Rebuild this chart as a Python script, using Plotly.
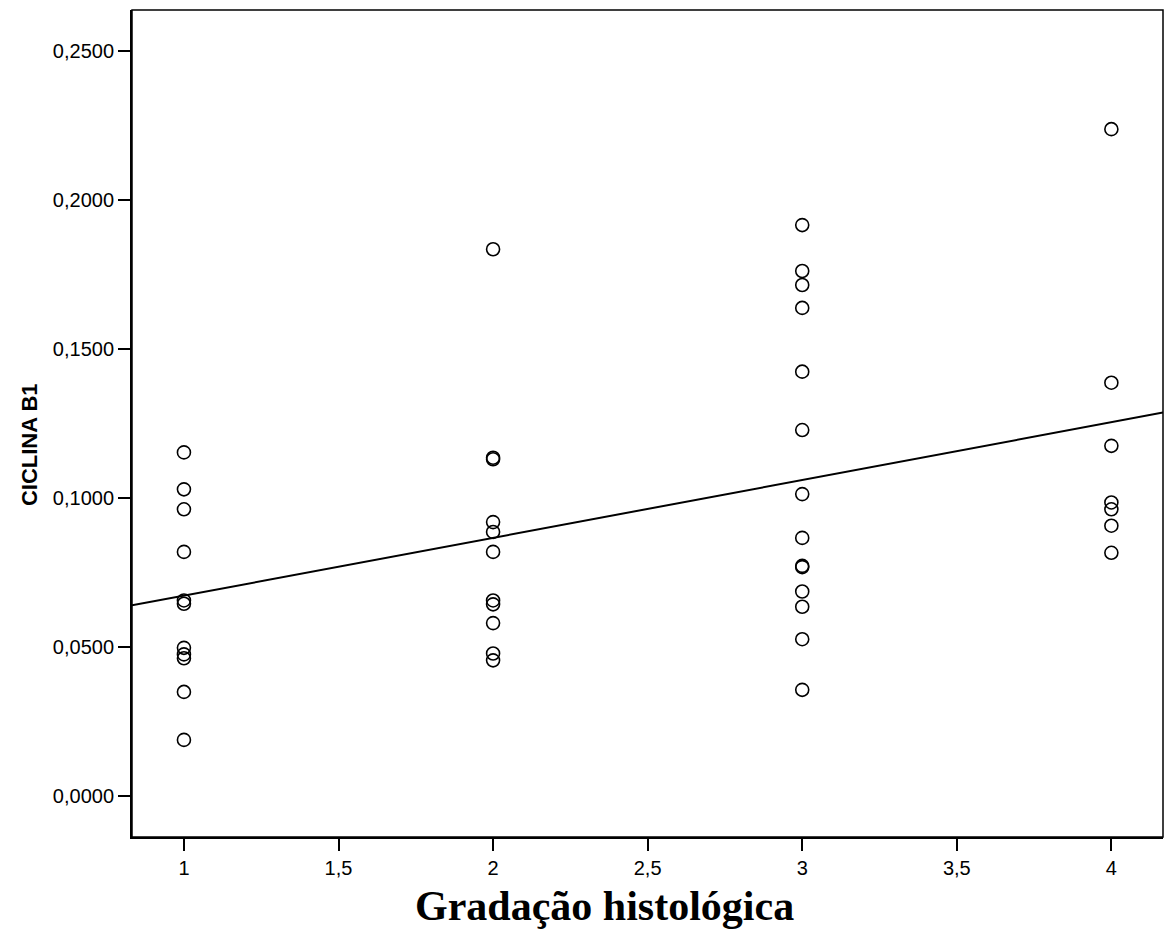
import numpy as np
import plotly.graph_objects as go

# Histological grade groups and CICLINA B1 values
grade_1 = [0.1153, 0.1029, 0.0962, 0.0819, 0.0656, 0.0645, 0.0497, 0.0475, 0.0462, 0.0349, 0.0188]
grade_2 = [0.1835, 0.1135, 0.1130, 0.0919, 0.0886, 0.0819, 0.0656, 0.0643, 0.0580, 0.0478, 0.0455]
grade_3 = [0.1916, 0.1762, 0.1715, 0.1638, 0.1424, 0.1228, 0.1013, 0.0866, 0.0772, 0.0768,
           0.0686, 0.0635, 0.0526, 0.0356]
grade_4 = [0.2238, 0.1387, 0.1175, 0.0985, 0.0962, 0.0907, 0.0816]

x_ticks = [1, 1.5, 2, 2.5, 3, 3.5, 4]
x_tick_labels = ["1", "1,5", "2", "2,5", "3", "3,5", "4"]
y_ticks = [0.0, 0.05, 0.10, 0.15, 0.20, 0.25]
y_tick_labels = ["0,0000", "0,0500", "0,1000", "0,1500", "0,2000", "0,2500"]

x_title = "Gradação histológica"
y_title = "CICLINA B1"

groups = [grade_1, grade_2, grade_3, grade_4]
xs = []
ys = []
for g, vals in enumerate(groups, start=1):
    xs += [g] * len(vals)
    ys += vals
xs = np.array(xs, dtype=float)
ys = np.array(ys, dtype=float)

x_range = [0.832, 4.167]
y_range = [-0.0138, 0.2638]

slope, intercept = np.polyfit(xs, ys, 1)
fit_x = np.array(x_range)
fit_y = intercept + slope * fit_x

fig = go.Figure()
fig.add_trace(go.Scatter(
    x=fit_x, y=fit_y, mode="lines",
    line=dict(color="black", width=2),
    hoverinfo="skip", showlegend=False,
))
fig.add_trace(go.Scatter(
    x=xs, y=ys, mode="markers",
    marker=dict(symbol="circle-open", size=13, color="black", line=dict(width=1.6, color="black")),
    showlegend=False,
))

fig.update_layout(
    width=1164, height=946,
    margin=dict(l=132, r=1, t=10, b=109),
    paper_bgcolor="white", plot_bgcolor="white",
    font=dict(family="Liberation Sans, Arial, sans-serif", size=20, color="black"),
    xaxis=dict(
        range=x_range, tickmode="array", tickvals=x_ticks, ticktext=x_tick_labels,
        showgrid=False, zeroline=False, showline=True, linecolor="black", linewidth=2,
        mirror=False, ticks="outside", ticklen=12, tickwidth=2, tickcolor="black",
        tickfont=dict(size=20),
    ),
    yaxis=dict(
        range=y_range, tickmode="array", tickvals=y_ticks, ticktext=y_tick_labels,
        showgrid=False, zeroline=False, showline=True, linecolor="black", linewidth=2,
        mirror=False, ticks="outside", ticklen=12, tickwidth=2, tickcolor="black",
        tickfont=dict(size=20),
    ),
    shapes=[dict(type="rect", xref="paper", yref="paper", x0=0, x1=1, y0=0, y1=1,
                 line=dict(color="black", width=1.5), fillcolor="rgba(0,0,0,0)")],
    annotations=[
        dict(text="<b>" + x_title + "</b>", xref="paper", yref="paper",
             x=0.458, y=-0.083, xanchor="center", yanchor="middle", showarrow=False,
             font=dict(family="Liberation Serif, Times New Roman, serif", size=42, color="black")),
        dict(text="<b>" + y_title + "</b>", xref="paper", yref="paper",
             x=-0.1, y=0.475, xanchor="center", yanchor="middle", showarrow=False, textangle=-90,
             font=dict(family="Liberation Sans, Arial, sans-serif", size=22, color="black")),
    ],
)

fig.write_html("out.html")
